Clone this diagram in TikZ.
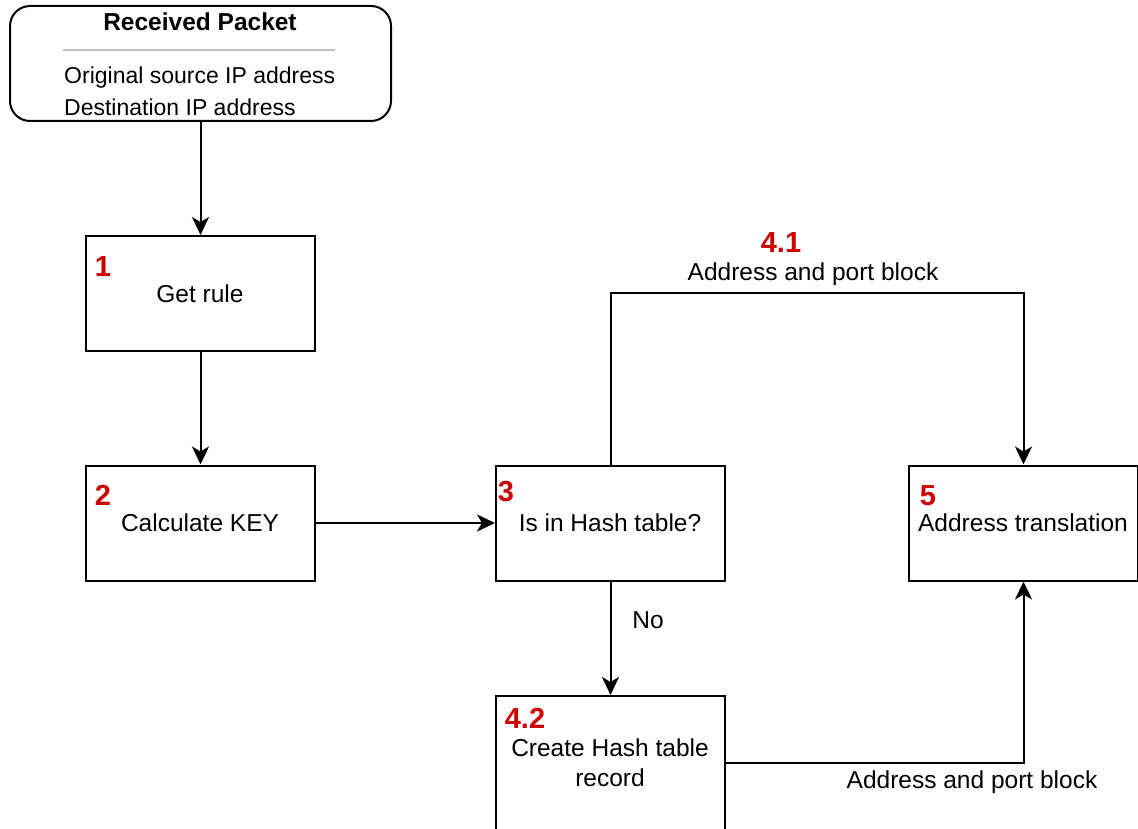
\documentclass[tikz,border=0pt]{standalone}
\usepackage{fontspec}
\setmainfont{Liberation Sans}
\usetikzlibrary{arrows.meta}
\definecolor{numred}{HTML}{CC0000}
\tikzset{
  px/.style={x=1pt,y=-1pt},
  stepbox/.style={draw=black,line width=2pt,minimum width=229pt,minimum height=115pt,inner sep=0pt,fill=white},
  lbl/.style={inner sep=0pt,font=\fontsize{24.5}{30}\selectfont},
  smalllbl/.style={inner sep=0pt,font=\fontsize{23}{28}\selectfont},
  num/.style={inner sep=0pt,text=numred,font=\fontsize{29}{32}\selectfont\bfseries},
  conn/.style={draw=black,line width=2pt,-{Stealth[length=18pt,width=17pt,inset=5pt]}},
}
\begin{document}
\begin{tikzpicture}[px]
\useasboundingbox (0,0) rectangle (1138,829);
\clip (0,0) rectangle (1138,829);
% top box
\node[draw=black,line width=2pt,rounded corners=20pt,minimum width=381pt,minimum height=115pt,inner sep=0pt] (rp) at (200.5,63.5) {};
\node[lbl,font=\fontsize{24.5}{30}\selectfont\bfseries] (rpt) at (200,22) {Received Packet};
\draw[draw=gray!50,line width=1.5pt] (63,50) -- (335,50);
\node[smalllbl,anchor=west] (rpl1) at (64,78) {Original source IP address};
\node[smalllbl,anchor=west] (rpl2) at (64,107) {Destination IP address};
% boxes
\node[stepbox] (b1) at (200.5,293.5) {};
\node[stepbox] (b2) at (200.5,523) {};
\node[stepbox] (b3) at (610.5,523) {};
\node[stepbox] (b5) at (1023.5,523) {};
\node[stepbox,minimum height=138pt] (b42) at (610.5,765) {};
% numbers
\node[num] (n1) at (103,267) {1};
\node[num] (n2) at (103,495) {2};
\node[num] (n3) at (506,492) {3};
\node[num] (n5) at (928,496) {5};
\node[num] (n41) at (781,243) {4.1};
\node[num] (n42) at (525,718) {4.2};
% texts
\node[lbl] (t1) at (200,294) {Get rule};
\node[lbl] (t2) at (200,523) {Calculate KEY};
\node[lbl] (t3) at (610,523) {Is in Hash table?};
\node[lbl] (t5) at (1023,523) {Address translation};
\node[lbl] (t42a) at (610,748) {Create Hash table};
\node[lbl] (t42b) at (610,778) {record};
% connectors
\draw[conn] (rp.south) -- (b1.north);
\draw[conn] (b1.south) -- (b2.north);
\draw[conn] (b2.east) -- (b3.west);
\coordinate (top41) at (816,293);
\draw[conn] (b3.north) |- (top41) -| (b5.north);
\draw[conn] (b3.south) -- (b3.south |- b42.north);
\coordinate (bot) at (725,763);
\draw[conn] (bot) -| (b5.south);
% edge labels
\node[lbl] (e41) at (813,274) {Address and port block};
\node[lbl] (eno) at (648,620) {No};
\node[lbl] (e42) at (972,782) {Address and port block};
\end{tikzpicture}
\end{document}
